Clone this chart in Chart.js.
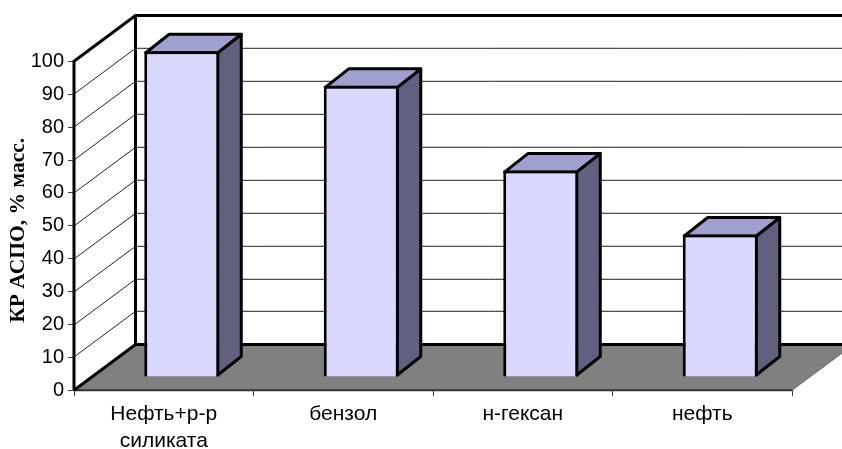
<!DOCTYPE html>
<html><head><meta charset="utf-8">
<style>html,body{margin:0;padding:0;background:#fff}#w{width:842px;height:449px;position:relative}</style>
<script src="https://cdn.jsdelivr.net/npm/chart.js@4"></script>
</head><body><div id="w"><canvas id="c" width="842" height="449"></canvas></div>
<script>
const categories = [["Нефть+р-р","силиката"],"бензол","н-гексан","нефть"];
const values = [99, 88.5, 62.8, 43.3];
const yTicks = [0,10,20,30,40,50,60,70,80,90,100];
const yTitle = "КР АСПО, % масс.";
// 3D projection, px
const wall = {dx:61.5, dy:-45.7};
const barShift = {dx:18, dy:-13.3};
const barDepth = {dx:23.5, dy:-18.5};
const rightEdge = 842;

const scene = {
  id:'scene',
  beforeDatasetsDraw(chart){
    const {ctx,scales:{x,y}} = chart;
    const L=x.left,R=x.right,T=y.getPixelForValue(100),B=y.getPixelForValue(0);
    const bl=L+wall.dx,bt=T+wall.dy,bb=B+wall.dy;
    ctx.save();
    ctx.beginPath();ctx.moveTo(L,B);ctx.lineTo(bl,bb);ctx.lineTo(R+wall.dx,bb);ctx.lineTo(R,B);ctx.closePath();
    ctx.fillStyle='#808080';ctx.fill();
    ctx.strokeStyle='#6a6a6a';ctx.lineWidth=1;
    ctx.beginPath();ctx.moveTo(R,B);ctx.lineTo(R+wall.dx,bb);ctx.stroke();
    ctx.strokeStyle='#222';ctx.lineWidth=1;
    yTicks.filter(v=>v>0&&v<100).forEach(v=>{
      const p=Math.round(y.getPixelForValue(v));
      ctx.beginPath();ctx.moveTo(L,p);ctx.lineTo(bl,p+wall.dy);ctx.lineTo(rightEdge,p+wall.dy);ctx.stroke();
    });
    ctx.strokeStyle='#333';ctx.lineWidth=2;
    ctx.beginPath();ctx.moveTo(L,B);ctx.lineTo(R,B);ctx.stroke();
    ctx.strokeStyle='#000';ctx.lineWidth=3;ctx.lineJoin='miter';
    ctx.beginPath();ctx.moveTo(L,B);ctx.lineTo(L,T);ctx.lineTo(bl,bt);ctx.lineTo(rightEdge,bt);ctx.stroke();
    ctx.beginPath();ctx.moveTo(bl,bt);ctx.lineTo(bl,bb);ctx.stroke();
    ctx.beginPath();ctx.moveTo(L,B);ctx.lineTo(bl,bb);ctx.lineTo(rightEdge,bb);ctx.stroke();
    ctx.restore();
  },
  beforeDatasetDraw(chart,args){
    const {ctx}=chart;
    ctx.save();
    ctx.translate(barShift.dx,barShift.dy);
    const d=barDepth;
    ctx.lineWidth=3;ctx.strokeStyle='#000';ctx.lineJoin='round';
    args.meta.data.forEach(b=>{
      const l=b.x-b.width/2+1.5,r=b.x+b.width/2-1.5,t=b.y+1.5,bo=b.base-1.5;
      ctx.beginPath();ctx.moveTo(r,t);ctx.lineTo(r+d.dx,t+d.dy);ctx.lineTo(r+d.dx,bo+d.dy);ctx.lineTo(r,bo);ctx.closePath();
      ctx.fillStyle='#606080';ctx.fill();ctx.stroke();
      ctx.beginPath();ctx.moveTo(l,t);ctx.lineTo(l+d.dx,t+d.dy);ctx.lineTo(r+d.dx,t+d.dy);ctx.lineTo(r,t);ctx.closePath();
      ctx.fillStyle='#A0A0D0';ctx.fill();ctx.stroke();
    });
  },
  afterDatasetDraw(chart){chart.ctx.restore();}
};

new Chart(document.getElementById('c'),{
  type:'bar',
  data:{labels:categories,datasets:[{data:values,backgroundColor:'#D9D9FF',borderColor:'#000',borderWidth:3,
    barPercentage:1,categoryPercentage:0.418,clip:false}]},
  plugins:[scene],
  options:{
    responsive:false,animation:false,devicePixelRatio:1,
    layout:{padding:{top:61.3,right:50,left:0,bottom:0}},
    plugins:{legend:{display:false},title:{display:false},tooltip:{enabled:false}},
    scales:{
      x:{type:'category',offset:true,
        afterFit(s){s.height=58.7;},
        border:{display:false},
        grid:{offset:true,drawOnChartArea:false,drawTicks:true,tickLength:6,color:'#444',lineWidth:1},
        ticks:{color:'#000',maxRotation:0,autoSkip:false,padding:5,font:{family:'"Liberation Sans"',size:21,lineHeight:1.27}}},
      y:{type:'linear',min:0,max:100,
        afterFit(s){s.width=74;},
        afterBuildTicks(s){s.ticks=yTicks.map(v=>({value:v}));},
        afterUpdate(s){
          if(s.__shifted)return; s.__shifted=true;
          const orig=s.drawTitle.bind(s);
          s.drawTitle=function(){s.ctx.save();s.ctx.translate(0,4.5);orig();s.ctx.restore();};
        },
        border:{display:false},
        grid:{drawOnChartArea:false,drawTicks:true,tickLength:6,color:'#444',lineWidth:1},
        ticks:{color:'#000',padding:4,font:{family:'"Liberation Sans"',size:20}},
        title:{display:true,text:yTitle,color:'#000',padding:{top:6,bottom:0},font:{family:'"Liberation Serif"',size:21.5,weight:'bold'}}}
    }
  }
});
</script></body></html>
